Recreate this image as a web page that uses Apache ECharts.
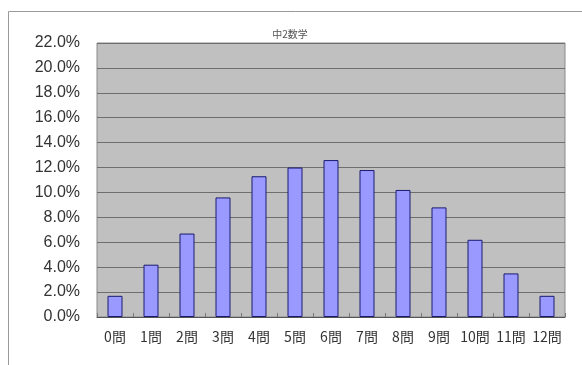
<!DOCTYPE html>
<html>
<head>
<meta charset="utf-8">
<script src="https://cdn.jsdelivr.net/npm/echarts@6/dist/echarts.min.js"></script>
<style>
  html, body { margin: 0; padding: 0; background: #fff; }
  #main { width: 582px; height: 365px; }
</style>
</head>
<body>
<div id="main"></div>
<script>
var categories = ['0問', '1問', '2問', '3問', '4問', '5問', '6問', '7問', '8問', '9問', '10問', '11問', '12問'];
var rates = [1.7, 4.2, 6.7, 9.6, 11.3, 12.0, 12.6, 11.8, 10.2, 8.8, 6.2, 3.5, 1.7];
var chartTitle = '中2数学';

var myChart = echarts.init(document.getElementById('main'));
var option = {
    animation: false,
    title: {
        text: chartTitle,
        left: 285,
        top: 24,
        textAlign: 'center',
        textStyle: { fontSize: 10, fontWeight: 'normal', color: '#555', fontFamily: 'Noto Sans CJK JP' }
    },
    graphic: [{
        type: 'rect',
        shape: { x: 8.5, y: 11.5, width: 620, height: 400 },
        style: { fill: 'none', stroke: '#9a9a9a', lineWidth: 1 },
        z: -10
    }],
    grid: {
        left: 97,
        right: 17,
        top: 43,
        bottom: 48,
        show: true,
        backgroundColor: '#c0c0c0',
        borderColor: '#8a8a8a',
        borderWidth: 1
    },
    xAxis: {
        type: 'category',
        data: categories,
        axisLine: { lineStyle: { color: '#555' } },
        axisTick: { show: true, inside: true, length: 4, lineStyle: { color: '#777' } },
        axisLabel: { margin: 13, fontSize: 14, color: '#333', fontFamily: 'Noto Sans CJK JP', interval: 0 }
    },
    yAxis: {
        type: 'value',
        min: 0,
        max: 22,
        interval: 2,
        axisLine: { show: false },
        axisTick: { show: false },
        splitLine: { lineStyle: { color: '#6e6e6e', width: 1 } },
        axisLabel: {
            margin: 17,
            fontSize: 16,
            color: '#333',
            fontFamily: 'Liberation Sans',
            formatter: function (v) { return v.toFixed(1) + '%'; }
        }
    },
    series: [{
        type: 'bar',
        data: rates,
        barWidth: 15,
        itemStyle: { color: '#9999ff', borderColor: '#1a1a70', borderWidth: 1 }
    }]
};
myChart.setOption(option);
</script>
</body>
</html>
